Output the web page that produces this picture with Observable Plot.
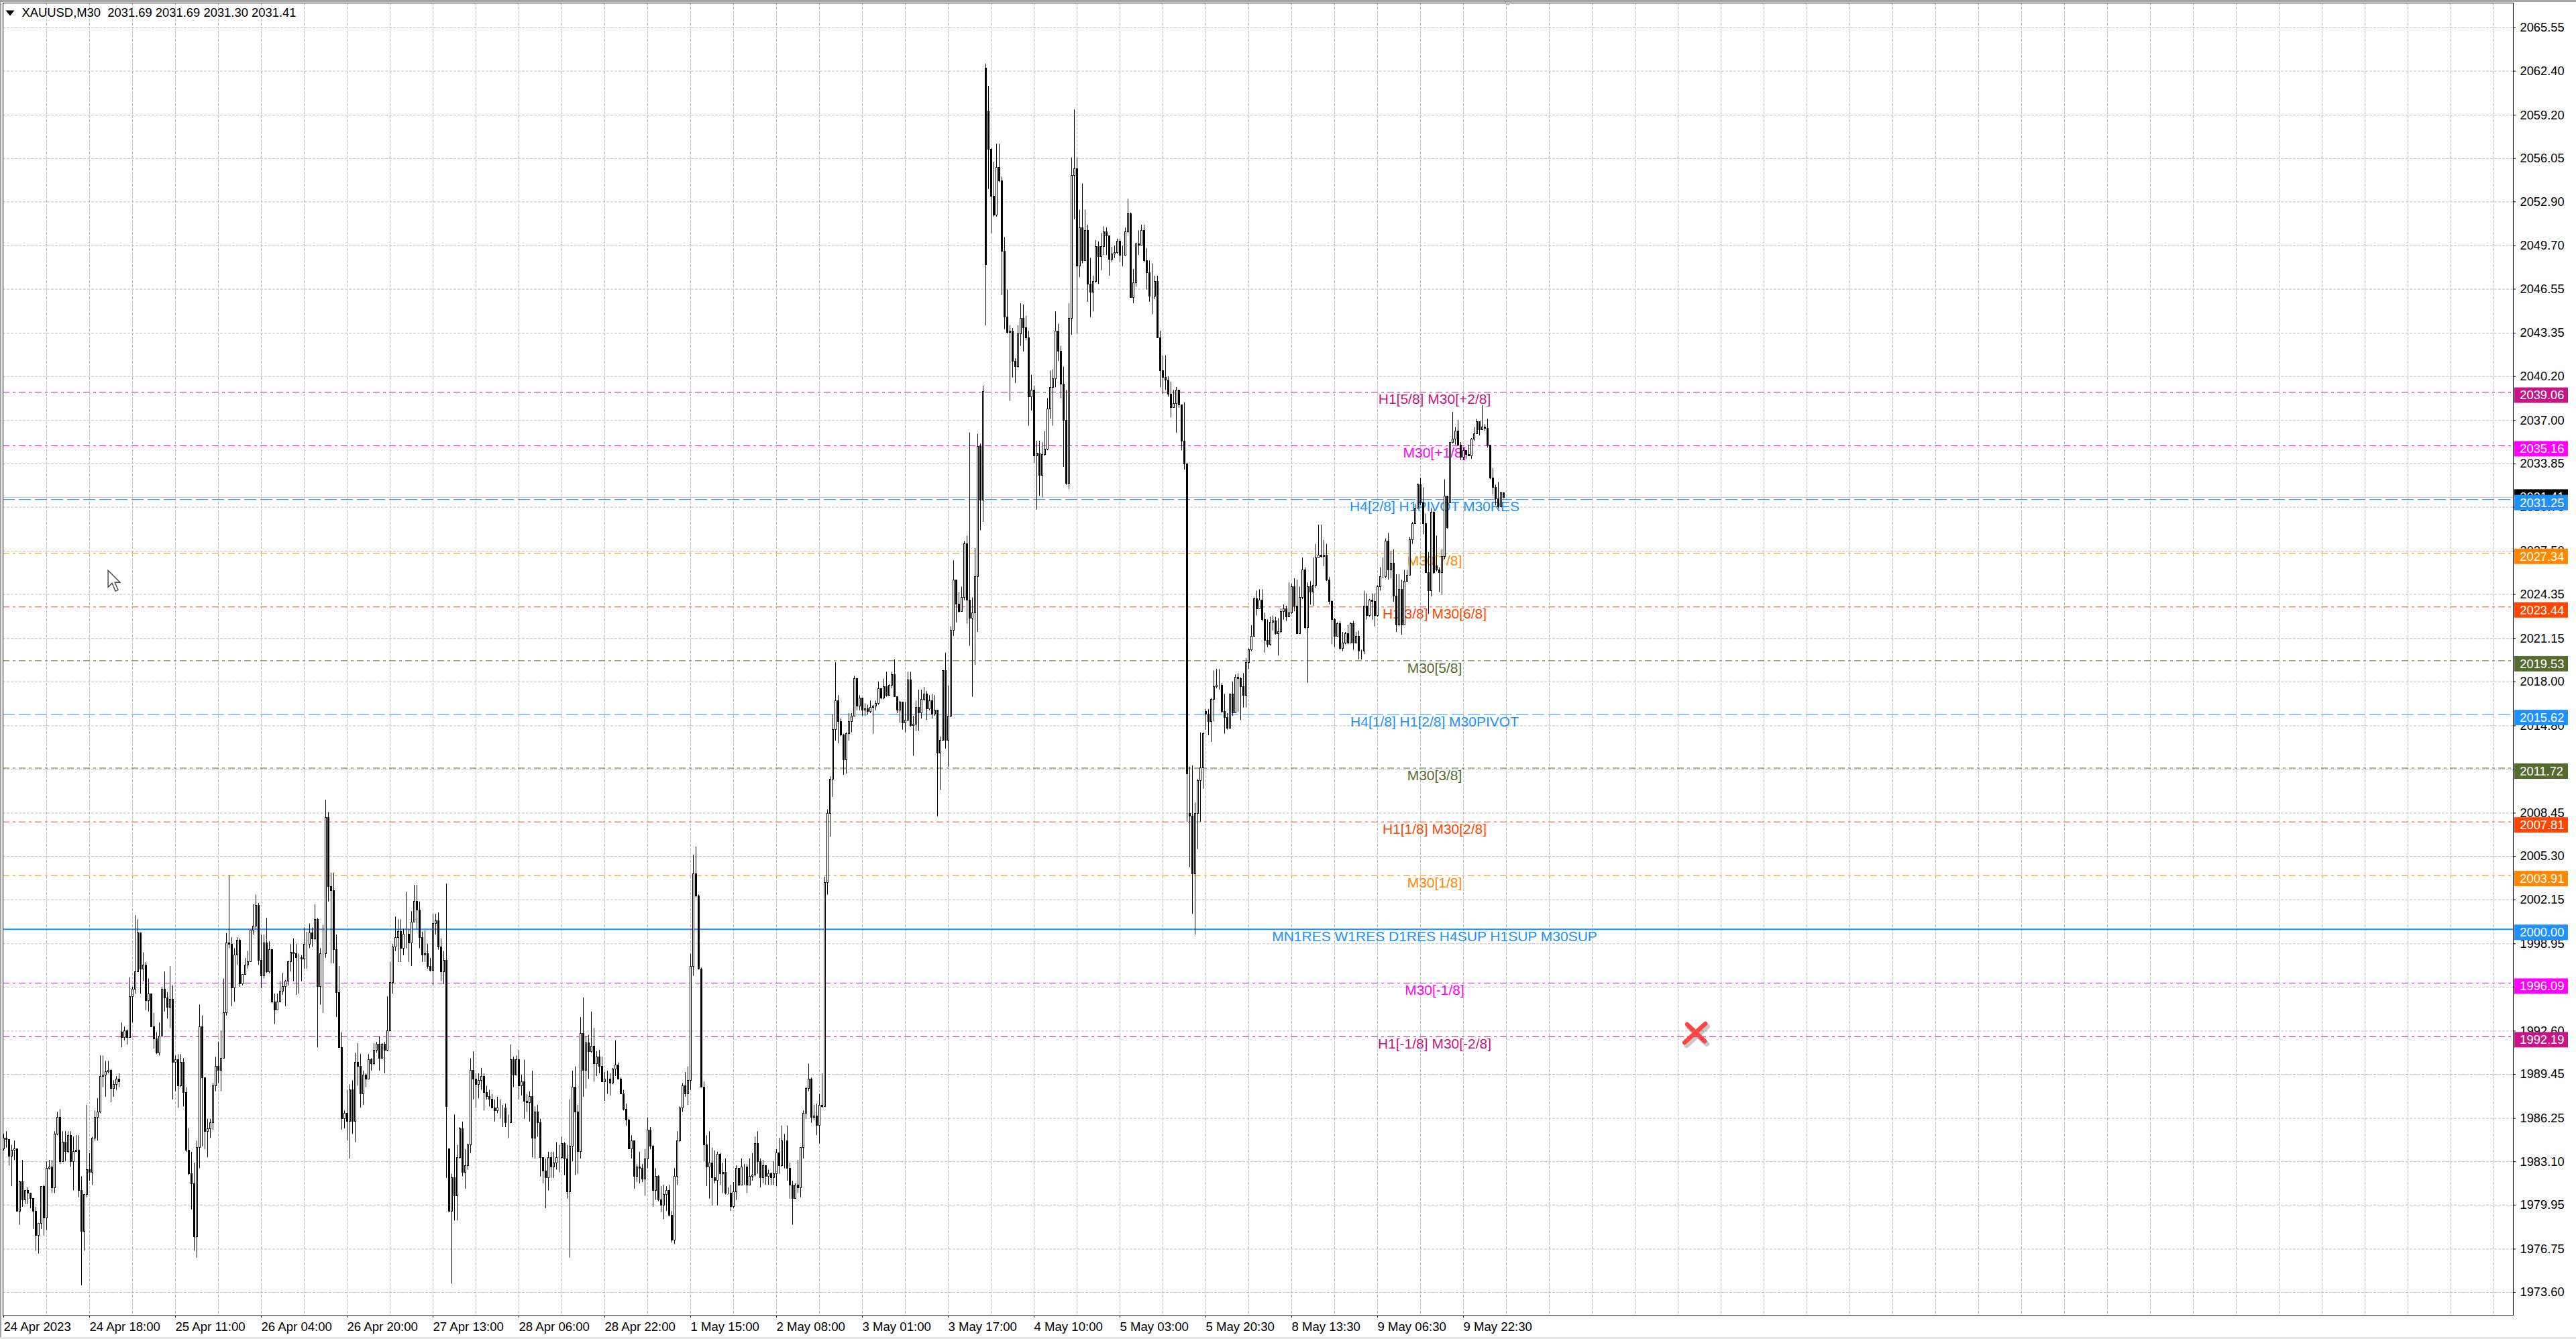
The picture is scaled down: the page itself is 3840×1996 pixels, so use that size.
<!DOCTYPE html>
<html><head><meta charset="utf-8">
<script src="https://cdn.jsdelivr.net/npm/d3@7"></script>
<script src="https://cdn.jsdelivr.net/npm/@observablehq/plot@0.6"></script>
<style>html,body{margin:0;padding:0;background:#fff;overflow:hidden}
#top{position:absolute;left:0;top:0;width:100%;height:3px;background:#a4a4a4}
#left{position:absolute;left:0;top:0;width:2px;height:100%;background:#a4a4a4}
#bot{position:absolute;left:0;bottom:0;width:100%;height:3px;background:#e4e4e4}
#chart{position:absolute;left:0;top:0}</style></head>
<body><div id="chart"></div><div id="top"></div><div id="left"></div><div id="bot"></div>
<script>
const title = "XAUUSD,M30\u00a0\u00a02031.69 2031.69 2031.30 2031.41";
const yTicks = [2065.55,2062.40,2059.20,2056.05,2052.90,2049.70,2046.55,2043.35,2040.20,2037.00,2033.85,2030.70,2027.50,2024.35,2021.15,2018.00,2014.80,2011.65,2008.45,2005.30,2002.15,1998.95,1995.80,1992.60,1989.45,1986.25,1983.10,1979.95,1976.75,1973.60];
const xLabels = ["24 Apr 2023","24 Apr 18:00","25 Apr 11:00","26 Apr 04:00","26 Apr 20:00","27 Apr 13:00","28 Apr 06:00","28 Apr 22:00","1 May 15:00","2 May 08:00","3 May 01:00","3 May 17:00","4 May 10:00","5 May 03:00","5 May 20:30","8 May 13:30","9 May 06:30","9 May 22:30"];
const levelPrices = [2039.06,2035.16,2031.25,2027.34,2023.44,2019.53,2015.62,2011.72,2007.81,2003.91,2000.00,1996.09,1992.19];
const levelColors = ["#c71585","#ff00ff","#1e90ff","#ff8800","#ff4500","#556b2f","#1e90ff","#556b2f","#ff4500","#ff8800","#1e90ff","#ff00ff","#c71585"];
const levelLabels = ["H1[5/8] M30[+2/8]","M30[+1/8]","H4[2/8] H1PIVOT M30RES","M30[7/8]","H1[3/8] M30[6/8]","M30[5/8]","H4[1/8] H1[2/8] M30PIVOT","M30[3/8]","H1[1/8] M30[2/8]","M30[1/8]","MN1RES W1RES D1RES H4SUP H1SUP M30SUP","M30[-1/8]","H1[-1/8] M30[-2/8]"];
const bid = 2031.41;
const openGaps = {0:1984.0,44:1992.5,166:1984.0,366:2062.6,367:2059.5,442:2008.4,448:2015.8,534:2026.4,539:2031.0,559:2031.7};
const closes = [
1984.8,1984.7,1983.5,1983.9,1984.0,1979.5,1981.6,1980.3,1981.0,1980.8,1980.4,1979.5,1977.7,1978.6,1981.3,1979.0,1982.6,1982.7,1981.2,1985.1,
1986.3,1983.1,1984.5,1983.8,1985.0,1983.1,1983.8,1983.9,1981.0,1978.0,1980.7,1982.5,1982.3,1984.8,1986.3,1986.7,1989.3,1989.4,1989.6,1989.7,
1988.4,1988.7,1989.1,1988.9,1992.1,1992.6,1992.1,1995.1,1995.6,1996.9,1999.7,1997.1,1997.4,1994.8,1995.3,1992.9,1992.0,1991.0,1992.2,1995.6,
1995.0,1994.3,1994.9,1990.3,1990.5,1988.6,1990.3,1988.1,1983.9,1982.2,1981.5,1977.6,1984.1,1992.9,1989.2,1985.3,1985.5,1985.9,1988.6,1990.0,
1989.7,1990.6,1993.9,1999.0,1998.9,1995.7,1998.1,1999.2,1996.0,1996.7,1997.4,1997.6,1999.9,2000.2,2001.7,1997.7,1996.6,1999.0,1996.9,1998.5,
1994.7,1994.1,1994.7,1995.5,1995.8,1996.2,1997.6,1998.3,1998.2,1997.9,1997.9,1997.8,1998.9,1998.9,1999.7,1999.3,2000.7,1995.8,1998.2,1998.2,
2008.1,2003.1,2002.8,1998.5,1995.4,1991.4,1986.2,1986.6,1986.0,1988.3,1986.0,1990.3,1990.0,1988.0,1989.4,1989.1,1990.5,1990.2,1991.2,1991.6,
1990.6,1991.6,1991.2,1992.6,1996.1,1998.7,1999.4,1999.8,1998.6,1999.6,1999.6,1999.0,2000.5,2002.0,2001.4,1999.4,1998.1,1998.2,1997.3,1997.0,
2000.4,2000.6,1998.7,1996.9,1997.7,1987.1,1979.5,1981.9,1980.6,1983.4,1985.5,1982.3,1982.8,1984.3,1989.7,1989.1,1988.7,1989.0,1989.3,1988.1,
1987.8,1987.6,1987.0,1986.8,1987.0,1987.0,1987.0,1985.9,1985.9,1990.5,1989.4,1990.5,1988.6,1988.9,1987.5,1987.4,1987.8,1984.8,1986.7,1985.9,
1983.4,1982.4,1981.9,1983.4,1982.7,1983.0,1983.4,1983.4,1984.4,1983.3,1980.9,1984.2,1988.5,1986.7,1983.8,1992.4,1989.7,1991.7,1991.1,1991.5,
1990.2,1990.7,1990.0,1988.9,1989.1,1989.1,1988.8,1989.8,1990.1,1989.1,1988.0,1986.9,1986.1,1984.0,1984.6,1982.0,1982.7,1982.6,1981.8,1983.3,
1985.4,1984.2,1981.0,1982.0,1980.3,1979.9,1980.7,1981.0,1979.2,1977.4,1982.0,1984.6,1987.0,1988.6,1988.0,1989.0,1997.3,2004.0,2002.4,1997.1,
1988.5,1984.3,1982.7,1983.0,1981.9,1981.7,1983.6,1982.2,1982.3,1980.8,1980.8,1979.8,1980.9,1982.6,1981.4,1982.7,1982.7,1981.4,1982.0,1982.1,
1984.4,1983.1,1981.9,1982.8,1982.0,1982.2,1981.9,1982.2,1983.7,1982.8,1984.6,1984.6,1982.6,1981.4,1980.4,1981.4,1981.2,1984.1,1986.6,1988.4,
1989.1,1986.3,1986.4,1985.7,1987.2,1987.1,2003.4,2008.4,2010.9,2014.5,2016.6,2015.1,2014.1,2012.3,2014.2,2015.1,2015.5,2018.2,2016.2,2016.8,
2015.9,2016.0,2015.8,2016.1,2016.2,2016.4,2017.5,2016.8,2017.6,2017.0,2017.7,2018.5,2016.9,2015.9,2016.5,2015.0,2015.2,2018.1,2014.8,2014.9,
2016.1,2015.7,2016.7,2017.1,2016.0,2016.6,2015.6,2015.9,2012.8,2013.7,2018.8,2013.7,2015.5,2021.7,2025.4,2023.6,2023.1,2024.1,2028.0,2023.9,
2022.6,2023.0,2025.6,2035.1,2031.2,2039.1,2048.3,2056.7,2053.3,2051.9,2055.4,2054.4,2049.3,2044.5,2043.4,2043.5,2041.3,2040.9,2043.3,2044.4,
2043.7,2043.0,2038.7,2039.2,2034.4,2034.6,2033.0,2034.5,2034.9,2037.8,2039.4,2040.0,2043.5,2042.0,2039.6,2037.0,2032.4,2044.4,2054.8,2055.3,
2048.2,2051.0,2048.6,2050.8,2046.9,2046.3,2047.1,2049.6,2048.9,2049.6,2050.7,2050.4,2048.7,2049.1,2049.2,2050.0,2049.0,2049.0,2050.7,2052.0,
2045.9,2047.0,2049.8,2049.7,2050.8,2048.6,2047.7,2046.0,2046.0,2047.1,2043.0,2040.6,2040.1,2039.9,2038.9,2037.9,2038.2,2039.2,2038.1,2035.5,
2033.8,2011.3,2008.2,2004.0,2008.4,2010.8,2011.7,2014.2,2015.6,2015.1,2016.7,2017.6,2017.7,2017.7,2015.8,2015.4,2014.6,2017.1,2015.7,2018.3,
2018.2,2017.6,2017.0,2019.4,2020.3,2021.3,2024.0,2023.3,2023.9,2022.5,2021.0,2020.7,2022.3,2022.4,2021.5,2021.6,2023.1,2023.3,2022.7,2023.0,
2024.9,2023.5,2021.5,2024.1,2026.1,2021.9,2024.9,2024.5,2025.0,2027.0,2027.2,2027.1,2027.2,2025.4,2023.8,2022.5,2021.3,2022.2,2020.4,2020.8,
2021.5,2020.8,2022.2,2020.8,2021.3,2020.2,2020.2,2023.5,2022.8,2023.9,2023.8,2022.8,2024.9,2025.6,2025.6,2028.2,2026.1,2026.6,2024.2,2022.1,
2024.7,2022.1,2025.3,2025.7,2028.3,2029.5,2030.6,2032.3,2031.0,2029.5,2025.9,2024.6,2030.3,2025.9,2026.1,2025.9,2027.1,2031.5,2029.2,2035.4,
2035.6,2036.2,2035.2,2034.3,2034.8,2034.5,2034.4,2035.6,2036.0,2036.9,2036.3,2036.5,2036.4,2035.2,2032.8,2032.1,2031.3,2030.7,2031.7,2031.4];
const highs = [
1985.1,1985.3,1984.6,1984.3,1984.6,1984.0,1981.7,1983.2,1981.0,1981.2,1980.8,1980.4,1979.8,1978.6,1981.3,1981.4,1983.1,1983.2,1983.2,1985.3,
1986.7,1986.9,1985.3,1985.3,1985.3,1985.3,1984.9,1985.0,1985.0,1982.0,1980.7,1987.2,1983.7,1984.9,1986.8,1987.7,1990.8,1990.8,1990.4,1990.4,
1989.8,1989.0,1989.3,1989.5,1993.2,1992.9,1992.7,1996.5,1995.8,2001.0,2000.7,1999.7,1998.3,1997.6,1996.4,1995.3,1993.9,1992.5,1993.2,1995.8,
1996.9,1995.4,1997.3,1995.9,1990.8,1990.9,1990.9,1990.6,1988.5,1985.5,1983.8,1983.0,1984.6,1994.5,1993.7,1989.2,1986.2,1986.2,1988.8,1990.7,
1991.8,1992.6,1996.4,1999.7,2003.9,1999.4,1998.6,1999.4,1999.3,1996.7,1997.9,1998.4,1999.9,2001.8,2002.5,2001.9,1999.6,1999.6,2000.8,1999.1,
1998.5,1995.3,1995.3,1996.2,1996.8,1996.3,1997.7,1998.9,1999.3,1998.9,1998.2,1998.1,2000.1,1999.8,2000.4,2000.1,2001.8,2000.8,1998.6,2000.3,
2009.4,2008.5,2004.1,2004.1,1999.6,1997.3,1992.5,1986.8,1988.3,1988.7,1989.0,1991.0,1991.7,1990.9,1989.7,1989.5,1990.9,1990.6,1991.7,1991.8,
1992.2,1991.7,1991.8,1995.1,1997.6,1998.9,2000.9,2000.7,2000.7,2000.0,2002.7,2000.0,2001.3,2003.2,2003.2,2002.0,1999.8,1999.9,1998.9,1997.9,
2001.1,2001.1,2001.2,1999.3,1998.4,2003.3,1984.0,1982.2,1986.5,1984.3,1985.6,1986.0,1984.0,1984.4,1990.6,1991.1,1989.5,1989.5,1989.9,1989.5,
1988.6,1988.3,1988.0,1987.6,1987.8,1987.6,1987.2,1987.3,1986.5,1991.6,1990.7,1990.8,1991.2,1989.4,1990.5,1988.0,1988.2,1989.7,1987.1,1987.2,
1986.2,1983.4,1983.3,1983.8,1983.8,1983.8,1984.5,1984.3,1984.9,1984.5,1984.3,1987.6,1989.7,1990.0,1987.2,1993.6,1995.0,1992.2,1992.3,1994.0,
1992.8,1991.1,1991.2,1990.7,1989.6,1989.7,1989.5,1989.9,1991.9,1990.3,1989.2,1988.3,1987.3,1986.2,1985.0,1984.6,1982.9,1983.8,1982.9,1984.0,
1986.3,1985.6,1984.3,1982.6,1982.1,1981.3,1981.4,1981.3,1981.4,1979.5,1982.6,1985.3,1987.1,1988.8,1989.6,1990.0,1998.2,2005.4,2006.0,2002.5,
1997.2,1988.9,1985.0,1985.3,1984.1,1983.9,1983.8,1983.7,1983.0,1983.3,1981.2,1981.4,1981.6,1982.8,1982.1,1983.3,1982.9,1982.9,1983.3,1983.7,
1984.9,1985.3,1983.3,1983.2,1982.8,1982.5,1982.3,1983.1,1984.0,1984.8,1985.7,1985.1,1985.7,1983.0,1981.7,1981.5,1983.2,1984.1,1986.8,1988.5,
1990.2,1989.2,1987.2,1987.3,1988.0,1989.5,2003.8,2008.7,2011.1,2015.6,2019.4,2017.0,2015.3,2014.2,2014.3,2015.7,2015.7,2018.4,2018.2,2017.0,
2016.5,2016.4,2016.3,2016.6,2016.3,2016.6,2018.0,2017.5,2018.2,2018.7,2017.8,2018.7,2019.6,2016.9,2016.6,2016.5,2016.5,2018.7,2018.7,2015.5,
2016.6,2017.4,2017.4,2017.6,2017.3,2017.0,2017.1,2017.0,2015.9,2014.0,2018.8,2020.1,2017.7,2022.0,2026.8,2025.3,2024.5,2024.9,2028.2,2028.6,
2036.1,2024.1,2027.7,2036.0,2035.3,2039.5,2062.9,2061.3,2056.8,2055.8,2057.1,2057.1,2054.7,2050.3,2046.5,2043.9,2043.7,2041.5,2043.9,2045.5,
2045.4,2044.6,2043.5,2040.3,2039.5,2035.5,2035.5,2035.4,2036.2,2038.6,2040.6,2040.7,2044.9,2044.0,2042.4,2040.9,2039.2,2045.5,2056.1,2059.6,
2056.1,2052.3,2054.2,2052.3,2051.2,2048.8,2047.5,2050.1,2050.0,2050.6,2051.1,2051.0,2049.4,2049.6,2049.7,2050.2,2050.2,2049.7,2051.0,2053.1,
2052.1,2048.0,2049.9,2050.8,2051.2,2051.2,2049.5,2048.6,2048.4,2047.5,2047.5,2043.5,2041.7,2041.7,2040.2,2039.8,2039.2,2039.4,2039.2,2038.1,
2038.3,2033.9,2011.8,2011.9,2009.2,2010.9,2014.3,2014.3,2016.0,2016.0,2016.8,2018.8,2018.9,2018.9,2017.9,2017.1,2015.7,2017.1,2018.0,2018.5,
2018.6,2018.3,2018.6,2019.7,2020.4,2022.1,2024.1,2024.6,2024.7,2024.7,2023.0,2022.5,2022.7,2022.8,2022.7,2022.6,2023.3,2023.6,2023.5,2025.2,
2025.1,2025.5,2025.4,2024.9,2027.0,2026.3,2025.2,2025.3,2027.0,2028.0,2029.4,2029.4,2028.3,2028.0,2025.6,2023.9,2022.6,2022.3,2022.4,2021.6,
2021.6,2022.1,2022.3,2022.4,2021.6,2021.7,2020.3,2024.6,2024.4,2024.0,2024.4,2024.4,2025.0,2026.3,2027.0,2028.4,2028.8,2027.5,2027.6,2025.8,
2025.8,2025.4,2026.1,2026.1,2028.5,2029.6,2030.9,2032.4,2032.8,2032.1,2030.2,2027.4,2030.6,2030.4,2028.6,2026.3,2027.6,2032.7,2031.5,2035.4,
2037.6,2036.5,2037.0,2035.4,2035.0,2034.8,2035.2,2035.7,2036.5,2037.1,2036.9,2038.1,2036.7,2037.1,2035.0,2033.5,2032.3,2032.5,2031.8,2031.7];
const lows = [
1983.9,1984.1,1982.8,1981.3,1983.2,1979.5,1978.5,1979.8,1980.0,1980.0,1979.7,1978.2,1976.6,1976.4,1978.2,1977.7,1978.1,1982.5,1980.8,1980.8,
1985.0,1982.9,1983.1,1983.1,1983.7,1982.7,1981.0,1983.8,1980.5,1974.1,1976.6,1980.5,1981.7,1981.4,1984.6,1984.6,1986.6,1988.5,1987.8,1989.5,
1987.4,1987.8,1988.3,1988.5,1991.4,1991.9,1991.6,1992.1,1993.2,1995.3,1996.9,1995.3,1996.2,1994.1,1994.0,1992.9,1991.3,1990.9,1990.8,1992.2,
1994.0,1993.5,1992.8,1987.6,1988.2,1987.0,1988.5,1987.1,1983.8,1982.1,1979.6,1976.6,1976.1,1982.6,1984.2,1984.0,1983.4,1984.8,1985.4,1988.2,
1988.8,1988.2,1990.6,1993.7,1998.6,1994.4,1994.7,1997.4,1995.8,1995.9,1996.8,1997.1,1997.6,1999.6,2000.0,1997.4,1995.7,1996.4,1996.8,1996.8,
1994.6,1993.1,1994.1,1994.7,1995.2,1994.4,1995.9,1996.9,1996.2,1995.2,1995.3,1996.2,1997.1,1997.1,1998.6,1998.7,1999.2,1991.4,1994.5,1993.9,
1997.9,2002.0,1997.5,1997.5,1993.6,1991.4,1985.4,1985.5,1984.6,1983.3,1985.1,1984.5,1988.6,1987.0,1987.2,1988.5,1989.1,1989.7,1990.1,1991.0,
1989.7,1990.6,1989.5,1991.1,1992.6,1995.3,1998.4,1997.6,1997.6,1998.1,1998.6,1997.6,1997.3,2000.5,2000.0,1998.6,1997.6,1997.6,1997.1,1996.9,
1995.9,1999.6,1998.5,1996.2,1996.0,1981.9,1979.4,1974.2,1978.8,1978.8,1983.3,1982.0,1981.1,1982.5,1983.7,1987.6,1987.0,1987.7,1988.3,1986.8,
1987.6,1987.1,1987.0,1986.0,1986.6,1986.2,1985.6,1985.6,1984.8,1985.9,1988.5,1989.4,1987.6,1987.9,1986.2,1986.7,1986.0,1983.4,1983.3,1984.9,
1982.0,1981.5,1979.7,1981.0,1981.9,1981.9,1982.5,1982.3,1983.3,1982.1,1980.4,1976.1,1983.1,1982.1,1982.2,1983.3,1987.8,1988.4,1989.1,1991.0,
1988.9,1989.3,1989.5,1988.9,1987.5,1988.0,1987.9,1988.7,1989.3,1989.1,1988.0,1986.8,1985.7,1984.0,1983.3,1981.1,1981.6,1981.5,1981.6,1980.6,
1982.6,1984.0,1979.8,1980.3,1980.2,1979.4,1978.9,1979.5,1979.1,1977.2,1977.1,1981.4,1984.5,1986.7,1987.8,1987.2,1988.3,1996.6,2002.3,1997.1,
1988.5,1983.1,1981.3,1980.4,1979.9,1981.5,1979.9,1981.4,1980.8,1980.7,1980.7,1979.5,1979.7,1980.3,1981.3,1981.4,1981.4,1980.8,1981.4,1981.7,
1982.0,1982.2,1981.2,1981.5,1981.4,1981.4,1981.4,1981.4,1981.3,1982.2,1982.7,1982.6,1981.7,1980.4,1978.5,1980.5,1980.8,1980.5,1983.3,1986.2,
1988.2,1985.9,1986.1,1985.0,1984.4,1987.0,1987.1,2002.5,2006.7,2009.6,2013.7,2013.5,2014.0,2011.2,2011.3,2013.7,2014.3,2015.5,2015.9,2015.9,
2015.5,2015.5,2015.6,2015.7,2014.2,2015.9,2016.3,2016.7,2016.7,2016.9,2017.0,2017.5,2016.9,2015.7,2015.0,2014.5,2014.3,2015.1,2014.7,2012.6,
2014.4,2014.4,2015.3,2016.6,2015.2,2015.9,2015.3,2015.5,2008.2,2010.1,2013.7,2013.1,2011.8,2015.4,2021.3,2022.3,2023.0,2023.2,2023.9,2022.2,
2020.6,2016.9,2019.2,2021.6,2029.0,2029.6,2043.9,2053.8,2050.6,2051.8,2051.8,2054.3,2046.1,2043.6,2043.3,2038.4,2040.1,2039.7,2040.8,2042.4,
2042.0,2042.8,2036.6,2037.7,2033.9,2030.5,2031.5,2031.4,2034.4,2034.8,2037.1,2036.6,2039.4,2041.3,2038.6,2033.6,2032.3,2032.0,2043.2,2051.6,
2043.3,2047.4,2048.4,2048.6,2045.6,2044.5,2044.9,2047.0,2046.9,2047.9,2049.0,2049.0,2047.5,2048.5,2048.8,2049.1,2048.5,2048.2,2049.0,2050.6,
2045.9,2045.5,2046.7,2049.0,2049.7,2048.5,2046.5,2045.6,2044.7,2045.8,2043.0,2039.4,2038.9,2039.2,2038.7,2037.2,2037.9,2036.1,2037.9,2034.8,
2033.4,2007.8,2004.5,2001.1,1999.6,2005.8,2007.8,2010.2,2014.5,2014.1,2013.6,2015.1,2017.5,2017.4,2015.7,2014.2,2014.5,2014.6,2015.5,2015.7,
2015.8,2015.2,2016.1,2016.1,2018.9,2020.2,2021.3,2022.8,2023.8,2022.4,2020.1,2020.5,2020.6,2021.7,2021.4,2019.9,2021.5,2022.5,2022.4,2022.7,
2022.9,2023.1,2021.5,2022.3,2024.0,2021.8,2017.9,2023.6,2023.5,2024.8,2027.0,2027.0,2026.4,2025.3,2023.6,2020.7,2020.5,2021.4,2020.3,2020.2,
2020.7,2020.7,2020.8,2020.3,2020.8,2019.6,2019.6,2020.0,2022.5,2022.7,2022.5,2022.0,2022.7,2024.6,2025.5,2025.5,2025.4,2025.5,2023.8,2021.6,
2022.0,2021.4,2022.1,2025.3,2025.7,2028.0,2029.5,2030.6,2030.8,2028.7,2025.9,2022.9,2024.2,2025.8,2026.0,2024.5,2024.3,2026.9,2029.1,2031.0,
2035.3,2035.2,2035.2,2034.1,2034.1,2034.2,2034.4,2034.2,2035.5,2036.1,2035.9,2036.3,2036.2,2035.0,2032.7,2031.6,2030.8,2030.6,2030.7,2031.3];

// ---- derived tables ----
const candles = closes.map((c,i)=>{
  const o = openGaps[i] ?? closes[i-1];
  return {i,o,c,h:Math.max(highs[i],o,c),l:Math.min(lows[i],o,c),up:c>=o};
});
const levels = levelPrices.map((price,i)=>({price,color:levelColors[i],label:levelLabels[i]}));
const xTicks = xLabels.map((_,k)=>k*32);
const gridX = d3.range(16,935,16);

// scale geometry: one bar slot = 4 px, one price unit = 20.5 px
const slot = 4, unit = 20.5;
const xDomain = [-0.25, 935.25];
const yDomain = [1971.891, 2067.355];
const boxX1 = 935.75, boxX2 = 955.75, boxTextX = 937.7, labelX = 533.25;

const font = "'Liberation Sans', Arial, sans-serif";
const gridDash = "4,2", dashDot = "10,5,4,5", longDash = "18,6";

const pointer = {draw(ctx){ctx.moveTo(0,0);ctx.lineTo(0,25);ctx.lineTo(6,19);ctx.lineTo(11,31);ctx.lineTo(15,29);ctx.lineTo(10,18);ctx.lineTo(18,18);ctx.closePath();}};
const cross = {draw(ctx){ctx.moveTo(-11,-13);ctx.lineTo(15,12);ctx.moveTo(16,-14);ctx.lineTo(-15,14);}};
const tabDown = {draw(ctx){ctx.moveTo(-7,-4);ctx.lineTo(7,-4);ctx.lineTo(0,4);ctx.closePath();}};
const menuDown = {draw(ctx){ctx.moveTo(-6.5,-4);ctx.lineTo(6.5,-4);ctx.lineTo(0,4);ctx.closePath();}};

const chart = Plot.plot({
  width:3840, height:1996,
  marginLeft:4, marginTop:4, marginRight:94, marginBottom:35,
  x:{domain:xDomain, range:[4,3746]},
  y:{domain:yDomain, range:[1961,4]},
  color:{type:"identity"},
  style:{fontFamily:font, fontSize:"18px", background:"#fff", display:"block", color:"#000"},
  marks:[
    Plot.ruleY(yTicks,{stroke:"#c0c0c0",strokeDasharray:gridDash}),
    Plot.ruleX(gridX,{stroke:"#c0c0c0",strokeDasharray:gridDash}),
    Plot.ruleY([bid],{stroke:"#c0c0c0"}),
    Plot.ruleY(levels.filter(d=>d.price!==2000&&d.color!=="#1e90ff"),{y:"price",stroke:"color",strokeDasharray:dashDot}),
    Plot.ruleY(levels.filter(d=>d.price!==2000&&d.color==="#1e90ff"),{y:"price",stroke:"color",strokeDasharray:longDash}),
    Plot.ruleY(levels.filter(d=>d.price===2000),{y:"price",stroke:"color",strokeWidth:2}),
    Plot.text(levels,{x:()=>labelX,y:"price",text:"label",fill:"color",dy:11,fontSize:21,textAnchor:"middle"}),
    Plot.ruleX(candles,{x:"i",y1:"l",y2:"h",stroke:"#000"}),
    Plot.rect(candles,{x1:d=>d.i-0.25,x2:d=>d.i+0.25,y1:"o",y2:"c",dx:0.5,
      fill:d=>d.up?"#fff":"#000",stroke:"#000",shapeRendering:"crispEdges"}),
    Plot.ruleX(xDomain,{stroke:"#000"}),
    Plot.ruleY(yDomain,{stroke:"#000"}),
    Plot.axisY(yTicks,{anchor:"right",tickSize:3,tickPadding:7,label:null,tickFormat:d=>d.toFixed(2),fontSize:18.3}),
    Plot.axisX(xTicks,{anchor:"bottom",tickSize:3,tickPadding:6,label:null,tickFormat:i=>xLabels[i/32],textAnchor:"start",fontSize:18.6}),
    Plot.rect([bid],{x1:()=>boxX1,x2:()=>boxX2,y1:d=>d+11.5/unit,y2:d=>d-11.5/unit,fill:"#000"}),
    Plot.text([bid],{x:()=>boxTextX,y:d=>d,text:d=>d.toFixed(2),fill:"#fff",textAnchor:"start",fontSize:18.3}),
    Plot.rect(levels,{x1:()=>boxX1,x2:()=>boxX2,y1:d=>d.price+6.5/unit,y2:d=>d.price-16.5/unit,fill:"color"}),
    Plot.text(levels,{x:()=>boxTextX,y:"price",text:d=>d.price.toFixed(2),fill:"#fff",dy:5,textAnchor:"start",fontSize:18.3}),
    Plot.text([title],{frameAnchor:"top-left",dx:28,dy:15,lineAnchor:"middle",textAnchor:"start",fill:"#000",fontSize:18.4}),
    Plot.dot([0],{frameAnchor:"top-left",dx:10.5,dy:15,symbol:menuDown,fill:"#000",stroke:"none"}),
    Plot.dot([0],{x:()=>560.75,y:()=>yDomain[1],symbol:tabDown,fill:"#b8b8b8",stroke:"none"}),
    Plot.dot([0],{x:()=>38.9,y:()=>2026.1,symbol:pointer,fill:"#fff",stroke:"#444",strokeWidth:1.4}),
    Plot.dot([0],{x:()=>630.15,y:()=>1992.45,dx:3,dy:4,symbol:cross,fill:"none",stroke:"#000",strokeOpacity:0.22,strokeWidth:8,strokeLinecap:"round"}),
    Plot.dot([0],{x:()=>630.15,y:()=>1992.45,symbol:cross,fill:"none",stroke:"#ff4444",strokeWidth:6.5,strokeLinecap:"round"})
  ]
});
document.getElementById("chart").appendChild(chart);
</script></body></html>
